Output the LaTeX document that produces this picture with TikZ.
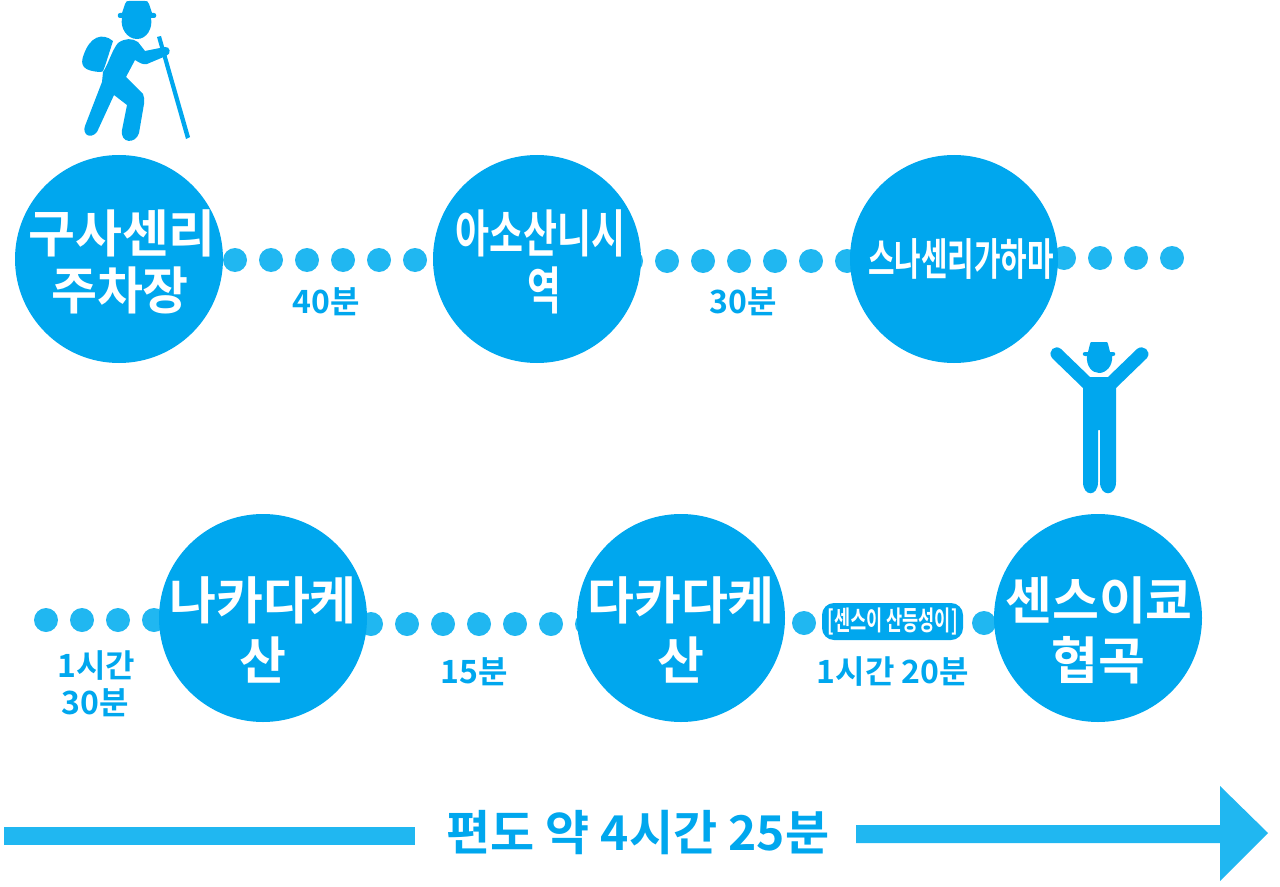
\documentclass[tikz,border=0pt]{standalone}
\usepackage{fontspec}
\setmainfont{Noto Sans CJK KR Bold}
\usetikzlibrary{backgrounds}
\definecolor{cblue}{HTML}{00A7EE}
\definecolor{dblue}{HTML}{20B7F1}
\newlength{\pxu}\setlength{\pxu}{0.05cm}
\newcommand{\fs}[1]{\fontsize{#1\pxu}{#1\pxu}\selectfont}
\tikzset{x=0.05cm,y=-0.05cm,
 stop/.style={circle,fill=cblue,minimum size=208\pxu,inner sep=0pt,text=white,align=center},
 big/.style={font=\fs{51},text=white},
 dotline/.style={draw=dblue,line width=24\pxu,line cap=round,dash pattern=on 0pt off 36\pxu,dash phase=#1\pxu},
 tlabel/.style={text=cblue,font=\fs{32},inner sep=0pt,align=center},
 icon/.style={fill=cblue,draw=none}}
\begin{document}
\begin{tikzpicture}
\useasboundingbox (0,0) rectangle (1280,887);
\node[stop] (s1) at (119,259) {};
\node[stop] (s2) at (537,259) {};
\node[stop] (s3) at (954,259) {};
\node[stop] (s4) at (1098,618) {};
\node[stop] (s5) at (681,618) {};
\node[stop] (s6) at (263,618) {};
\node[big] (t1) at (122,233) {\scalebox{1}[1]{구사센리}};
\node[big] (t1b) at (120,290) {\scalebox{.98}[1]{주차장}};
\node[big] (t2) at (540.5,233) {\scalebox{.725}[1]{아소산니시}};
\node[big] (t2b) at (544,290) {\scalebox{.72}[1]{역}};
\node[big,font=\fs{44}] (t3) at (961,259) {\scalebox{.655}[1]{스나센리가하마}};
\node[big] (t4) at (1099,600) {센스이쿄};
\node[big] (t4b) at (1098,660) {협곡};
\node[big] (t5) at (681,600) {다카다케};
\node[big] (t5b) at (681,660) {산};
\node[big] (t6) at (263,600) {나카다케};
\node[big] (t6b) at (263,660) {산};
\begin{scope}[on background layer]
\draw[dotline=28] ([yshift=-1\pxu]s1.center) -- ([yshift=-1\pxu]s2.center);
\draw[dotline=14] ([yshift=-2\pxu]s2.center) -- ([yshift=-2\pxu]s3.center);
\coordinate (e1) at (1176,258);
\draw[dotline=34] (s3.center |- e1) -- (e1);
\coordinate (e2) at (34,620);
\draw[dotline=0] (e2) ++(12,0) -- ([yshift=-2\pxu]s6.center);
\draw[dotline=0] ([yshift=-6\pxu]s6.center) -- ([yshift=-6\pxu]s5.center);
\draw[dotline=0] ([yshift=-5\pxu]s5.center) ++(123,0) -- ++(180,0);
\end{scope}
\node[tlabel] (l1) at (326,302) {40분};
\node[tlabel] (l2) at (743,302) {30분};
\node[tlabel] (l3a) at (96,666) {1시간};
\node[tlabel] (l3b) at (95,703) {30분};
\node[tlabel] (l4) at (474,672) {15분};
\node[tlabel] (l5) at (893,672) {1시간 20분};
\node[fill=cblue,rounded corners=12\pxu,text=white,font=\fs{27},inner sep=0pt,minimum width=141\pxu,minimum height=37\pxu] (tag) at (892.5,621.5) {\scalebox{.65}[1]{[센스이 산등성이]}};
\node[text=cblue,font=\fs{48},inner sep=0pt] (tot) at (638,833) {편도 약 4시간 25분};
\fill[dblue] (4,827) rectangle (415,845);
\fill[dblue] (856,825) -- (1220,825) -- (1220,786) -- (1268,833) -- (1220,881) -- (1220,843) -- (856,843) -- cycle;
% hiker
\begin{scope}
\fill[icon] (125,4) .. controls (126,1) and (127,1) .. (129,1) -- (145,1) .. controls (147,1) and (148,1) .. (149,4) -- (152,13) -- (154,13) .. controls (157,13) and (157,18) .. (154,18) -- (151,18) .. controls (153,28) and (147,39) .. (137,39) .. controls (127,39) and (120,28) .. (122,18) -- (120,18) .. controls (117,18) and (117,13) .. (120,13) -- (122,13) -- cycle;
\fill[icon] (113,41) .. controls (102,32) and (90,37) .. (84,54) .. controls (79,66) and (84,71) .. (100,72) .. controls (104,72) and (103,70) .. (105,66) -- cycle;
\fill[icon] (118,43) .. controls (125,38) and (132,38) .. (138,42) -- (145,51) -- (165,47) .. controls (170,46) and (172,54) .. (166,56) -- (147,64) .. controls (143,65) and (140,63) .. (135,60) -- (126,77) -- (143,94) .. controls (145,97) and (144,100) .. (144,104) -- (139,133) .. controls (136,144) and (120,144) .. (122,130) -- (127,105) -- (114,95) -- (97,132) .. controls (90,140) and (82,134) .. (85,126) -- (102,82) -- (103,72) .. controls (108,65) and (112,50) .. (118,43) -- cycle;
\fill[icon] (157,37) -- (161,36) -- (190,137) -- (186,139) -- cycle;
% standing figure
\fill[icon] (1090,344) .. controls (1090,342) and (1091,342) .. (1093,342) -- (1105,342) .. controls (1107,342) and (1108,342) .. (1108,344) -- (1110,352) -- (1113,352) .. controls (1116,352) and (1116,356) .. (1113,356) -- (1112,356) .. controls (1113,366) and (1106,373) .. (1099,373) .. controls (1092,373) and (1086,366) .. (1087,356) -- (1085,356) .. controls (1082,356) and (1082,352) .. (1085,352) -- (1088,352) -- cycle;
\fill[icon] (1090,377) -- (1108,377) -- (1137,349) .. controls (1143,344) and (1152,351) .. (1147,358) -- (1116,388) -- (1116,482) .. controls (1116,497) and (1100,497) .. (1100,482) -- (1100,430) -- (1098,430) -- (1098,482) .. controls (1098,497) and (1083,497) .. (1083,482) -- (1083,388) -- (1052,358) .. controls (1047,351) and (1055,344) .. (1061,349) -- cycle;
\end{scope}
\end{tikzpicture}
\end{document}
